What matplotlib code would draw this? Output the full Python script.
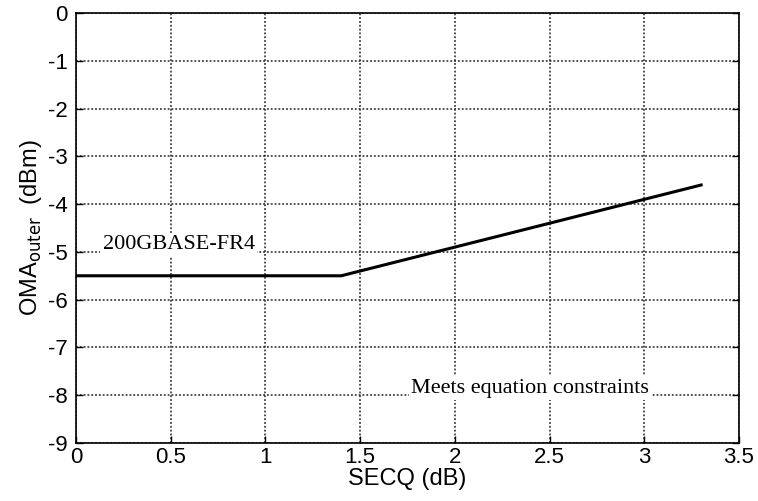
import matplotlib
matplotlib.use('Agg')
import matplotlib.pyplot as plt

# ── data ──────────────────────────────────────────────────────────────
secq = [0.0, 1.4, 3.3]
oma  = [-5.5, -5.5, -3.6]
xticks = [0, 0.5, 1, 1.5, 2, 2.5, 3, 3.5]
yticks = [0, -1, -2, -3, -4, -5, -6, -7, -8, -9]

plt.rcParams['font.family'] = ['Liberation Sans', 'DejaVu Sans']

fig = plt.figure(figsize=(7.58, 5.01), dpi=100)
ax = fig.add_axes([76 / 758, 1 - 443 / 501, (739 - 76) / 758, (443 - 13) / 501])

ax.plot(secq, oma, color='black', linewidth=2.2)

ax.set_xlim(0, 3.5)
ax.set_ylim(-9, 0)
ax.set_xticks(xticks)
ax.set_xticklabels([f'{t:g}' for t in xticks])
ax.set_yticks(yticks)
ax.set_yticklabels([f'{t:g}' for t in yticks])
ax.grid(True, color='#222222', linestyle=(0, (1.2, 1.3)), linewidth=1.1)
ax.tick_params(direction='in', length=5, width=1, labelsize=16,
               top=False, right=True)
ax.tick_params(axis='x', pad=3)
ax.tick_params(axis='y', pad=6)
for sp in ax.spines.values():
    sp.set_linewidth(1.2)

ax.set_xlabel('SECQ (dB)', fontsize=17, labelpad=0)
ax.set_ylabel(r'OMA$_{\mathrm{outer}}$  (dBm)', fontsize=17, labelpad=3)

box = dict(facecolor='white', edgecolor='none', pad=2)
ax.text(0.14, -4.85, '200GBASE-FR4', family='Liberation Serif', fontsize=16,
        va='center', ha='left', bbox=box)
ax.text(1.77, -7.85, 'Meets equation constraints', family='Liberation Serif',
        fontsize=16, va='center', ha='left', bbox=box)

plt.savefig('out.png', dpi=100)
plt.close()
